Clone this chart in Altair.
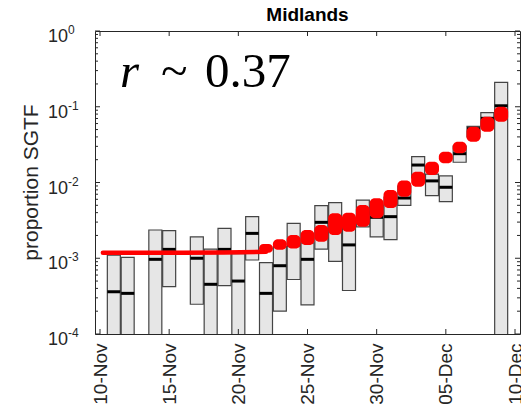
import altair as alt
import pandas as pd

# ---------------- data ----------------
bar_dates = ["2020-11-11", "2020-11-12", "2020-11-14", "2020-11-15", "2020-11-17",
             "2020-11-18", "2020-11-19", "2020-11-20", "2020-11-21", "2020-11-22",
             "2020-11-23", "2020-11-24", "2020-11-25", "2020-11-26", "2020-11-27",
             "2020-11-28", "2020-11-29", "2020-11-30", "2020-12-01", "2020-12-02",
             "2020-12-03", "2020-12-04", "2020-12-05", "2020-12-06", "2020-12-07",
             "2020-12-08", "2020-12-09"]
bar_hi = [1.10e-3, 1.03e-3, 2.36e-3, 2.31e-3, 1.92e-3, 1.32e-3, 2.48e-3, 1.15e-3, 3.54e-3,
          8.73e-4, 1.42e-3, 2.88e-3, 1.60e-3, 4.94e-3, 5.44e-3, 3.40e-3, 5.87e-3, 5.05e-3,
          6.44e-3, 8.99e-3, 2.19e-2, 1.29e-2, 1.22e-2, 3.03e-2, 5.52e-2, 8.34e-2, 0.210]
bar_med = [3.61e-4, 3.44e-4, 9.68e-4, 1.31e-3, 1.00e-3, 4.53e-4, 1.31e-3, 5.00e-4, 2.13e-3,
           3.44e-4, 7.97e-4, 1.50e-3, 9.68e-4, 2.98e-3, 3.23e-3, 1.50e-3, 3.96e-3, 3.47e-3,
           3.54e-3, 6.24e-3, 1.70e-2, 1.05e-2, 8.65e-3, 2.40e-2, 5.13e-2, 7.04e-2, 0.103]
bar_lo = [5e-5, 5e-5, 5e-5, 4.21e-4, 2.47e-4, 5e-5, 4.34e-4, 5e-5, 9.48e-4,
          5e-5, 2.01e-4, 5.24e-4, 2.42e-4, 1.32e-3, 9.12e-4, 3.75e-4, 2.59e-3, 1.92e-3,
          1.76e-3, 5.00e-3, 1.15e-2, 6.73e-3, 5.58e-3, 1.85e-2, 3.99e-2, 5.57e-2, 5e-5]

# model fit (red): flat early part, then daily clusters
fit_line_dates = ["2020-11-10T05:00:00Z", "2020-11-13", "2020-11-16", "2020-11-19", "2020-11-22"]
fit_line_vals = [1.18e-3, 1.18e-3, 1.18e-3, 1.19e-3, 1.22e-3]

fit_dates = ["2020-11-22", "2020-11-23", "2020-11-24", "2020-11-25", "2020-11-26",
             "2020-11-27", "2020-11-28", "2020-11-29", "2020-11-30", "2020-12-01",
             "2020-12-02", "2020-12-03", "2020-12-04", "2020-12-05", "2020-12-06",
             "2020-12-07", "2020-12-08", "2020-12-09"]
fit_lo = [1.18e-3, 1.29e-3, 1.35e-3, 1.50e-3, 1.65e-3, 2.03e-3, 2.24e-3, 2.61e-3, 3.37e-3,
          4.61e-3, 6.50e-3, 8.81e-3, 1.26e-2, 1.79e-2, 2.43e-2, 3.46e-2, 4.69e-2, 6.35e-2]
fit_hi = [1.54e-3, 1.78e-3, 2.03e-3, 2.36e-3, 2.75e-3, 3.92e-3, 3.99e-3, 5.05e-3, 6.18e-3,
          7.96e-3, 1.06e-2, 1.39e-2, 1.88e-2, 2.55e-2, 3.46e-2, 5.45e-2, 7.39e-2, 0.100]

xtick_dates = ["2020-11-10", "2020-11-15", "2020-11-20", "2020-11-25", "2020-11-30",
               "2020-12-05", "2020-12-10"]
y_major = [1.0, 0.1, 0.01, 0.001, 0.0001]
y_exp = ["0", "-1", "-2", "-3", "-4"]
minor_mult = [2, 3, 4, 5, 6, 7, 8, 9]
y_minor = [m * d for d in [1e-4, 1e-3, 1e-2, 1e-1] for m in minor_mult]

title_text = "Midlands"
y_title = "proportion SGTF"
r_symbol = "r"
r_tilde = "~"
r_value = "0.37"

# ---------------- layout ----------------
W, H = 425, 303
FONT = "Liberation Sans"
DARK = "#262626"

bars_df = pd.DataFrame({"d": bar_dates, "lo": bar_lo, "hi": bar_hi, "med": bar_med})
fitl_df = pd.DataFrame({"d": fit_line_dates, "v": fit_line_vals})
fit_df = pd.DataFrame({"d": fit_dates, "lo": fit_lo, "hi": fit_hi})
xt_df = pd.DataFrame({"d": xtick_dates})
ymaj_df = pd.DataFrame({"v": y_major, "e": y_exp, "b": ["10"] * len(y_major)})
ymin_df = pd.DataFrame({"v": y_minor})

xscale = alt.Scale(type="utc",
                   domain=[alt.DateTime(year=2020, month=11, date=10, utc=True),
                           alt.DateTime(year=2020, month=12, date=10, utc=True)])
xaxis = alt.Axis(values=[alt.DateTime(year=2020, month=m, date=dd, utc=True)
                         for m, dd in [(11, 10), (11, 15), (11, 20), (11, 25), (11, 30), (12, 5), (12, 10)]],
                 labelExpr="utcFormat(datum.value, '%d-%b')", labelAngle=270, labelFontSize=19,
                 labelFont=FONT, labelColor=DARK, labelPadding=9, ticks=False, domain=False,
                 grid=False, title=None, labelOverlap=False, labelFlush=False, labelBound=False)
yscale = alt.Scale(type="log", domain=[1e-4, 1])


def X(f="d"):
    return alt.X(f"{f}:T", scale=xscale, axis=xaxis)


def Y(f):
    return alt.Y(f"{f}:Q", scale=yscale, axis=None)


bars = alt.Chart(bars_df).mark_bar(size=13, clip=True, fill="#e6e6e6", stroke="#444444",
                                   strokeWidth=1.2, opacity=1).encode(x=X(), y=Y("lo"), y2="hi")
meds = alt.Chart(bars_df).mark_tick(orient="horizontal", size=13, thickness=3, opacity=1,
                                    color="black").encode(x=X(), y=Y("med"))
fit_line = alt.Chart(fitl_df).mark_line(color="#ff0000", strokeWidth=4.5,
                                        strokeCap="round").encode(x=X(), y=Y("v"))
fit_blobs = alt.Chart(fit_df).mark_bar(size=14, cornerRadius=5, color="#ff0000", opacity=1).encode(
    x=X(), y=Y("lo"), y2="hi")

xt_bot = alt.Chart(xt_df).mark_rule(color=DARK, strokeWidth=1).encode(
    x=X(), y=alt.value(H), y2=alt.value(H - 5))
xt_top = alt.Chart(xt_df).mark_rule(color=DARK, strokeWidth=1).encode(
    x=X(), y=alt.value(0), y2=alt.value(5))
yl_maj = alt.Chart(ymaj_df).mark_rule(color=DARK, strokeWidth=1).encode(
    y=Y("v"), x=alt.value(0), x2=alt.value(5))
yr_maj = alt.Chart(ymaj_df).mark_rule(color=DARK, strokeWidth=1).encode(
    y=Y("v"), x=alt.value(W - 5), x2=alt.value(W))
yl_min = alt.Chart(ymin_df).mark_rule(color=DARK, strokeWidth=1).encode(
    y=Y("v"), x=alt.value(0), x2=alt.value(3))
yr_min = alt.Chart(ymin_df).mark_rule(color=DARK, strokeWidth=1).encode(
    y=Y("v"), x=alt.value(W - 3), x2=alt.value(W))

ylab_base = alt.Chart(ymaj_df).mark_text(font=FONT, fontSize=18, color=DARK, align="right",
                                         baseline="middle", dy=6).encode(
    y=Y("v"), x=alt.value(-27), text="b:N")
ylab_exp = alt.Chart(ymaj_df).mark_text(font=FONT, fontSize=12, color=DARK, align="left",
                                        baseline="middle", dy=-1).encode(
    y=Y("v"), x=alt.value(-27), text="e:N")

ytitle = alt.Chart(pd.DataFrame({"t": [y_title]})).mark_text(
    font=FONT, fontSize=21, color=DARK, angle=270, align="center", baseline="middle").encode(
    x=alt.value(-63), y=alt.value(H / 2), text="t:N")
title = alt.Chart(pd.DataFrame({"t": [title_text]})).mark_text(
    font=FONT, fontSize=19, fontWeight="bold", color="black", align="center",
    baseline="alphabetic").encode(x=alt.value(W / 2), y=alt.value(-10), text="t:N")
r_sym = alt.Chart(pd.DataFrame({"t": [r_symbol]})).mark_text(
    font="Liberation Serif", fontSize=49, fontStyle="italic", color="black", align="left",
    baseline="alphabetic").encode(x=alt.value(25), y=alt.value(56), text="t:N")
r_til = alt.Chart(pd.DataFrame({"t": [r_tilde]})).mark_text(
    font="Liberation Serif", fontSize=49, color="black", align="left",
    baseline="alphabetic").encode(x=alt.value(66), y=alt.value(56), text="t:N")
r_val = alt.Chart(pd.DataFrame({"t": [r_value]})).mark_text(
    font="Liberation Serif", fontSize=49, color="black", align="left",
    baseline="alphabetic").encode(x=alt.value(110), y=alt.value(56), text="t:N")

chart = alt.layer(
    bars, meds, fit_line, fit_blobs,
    xt_bot, xt_top, yl_maj, yr_maj, yl_min, yr_min,
    ylab_base, ylab_exp, ytitle, title, r_sym, r_til, r_val
).properties(
    width=W, height=H,
    autosize=alt.AutoSizeParams(type="none"),
    padding={"left": 95, "top": 31, "right": 1, "bottom": 78},
    background="white",
).configure_view(stroke=DARK, strokeWidth=1)

chart.save("out.html", embed_options={"renderer": "svg", "actions": False})
